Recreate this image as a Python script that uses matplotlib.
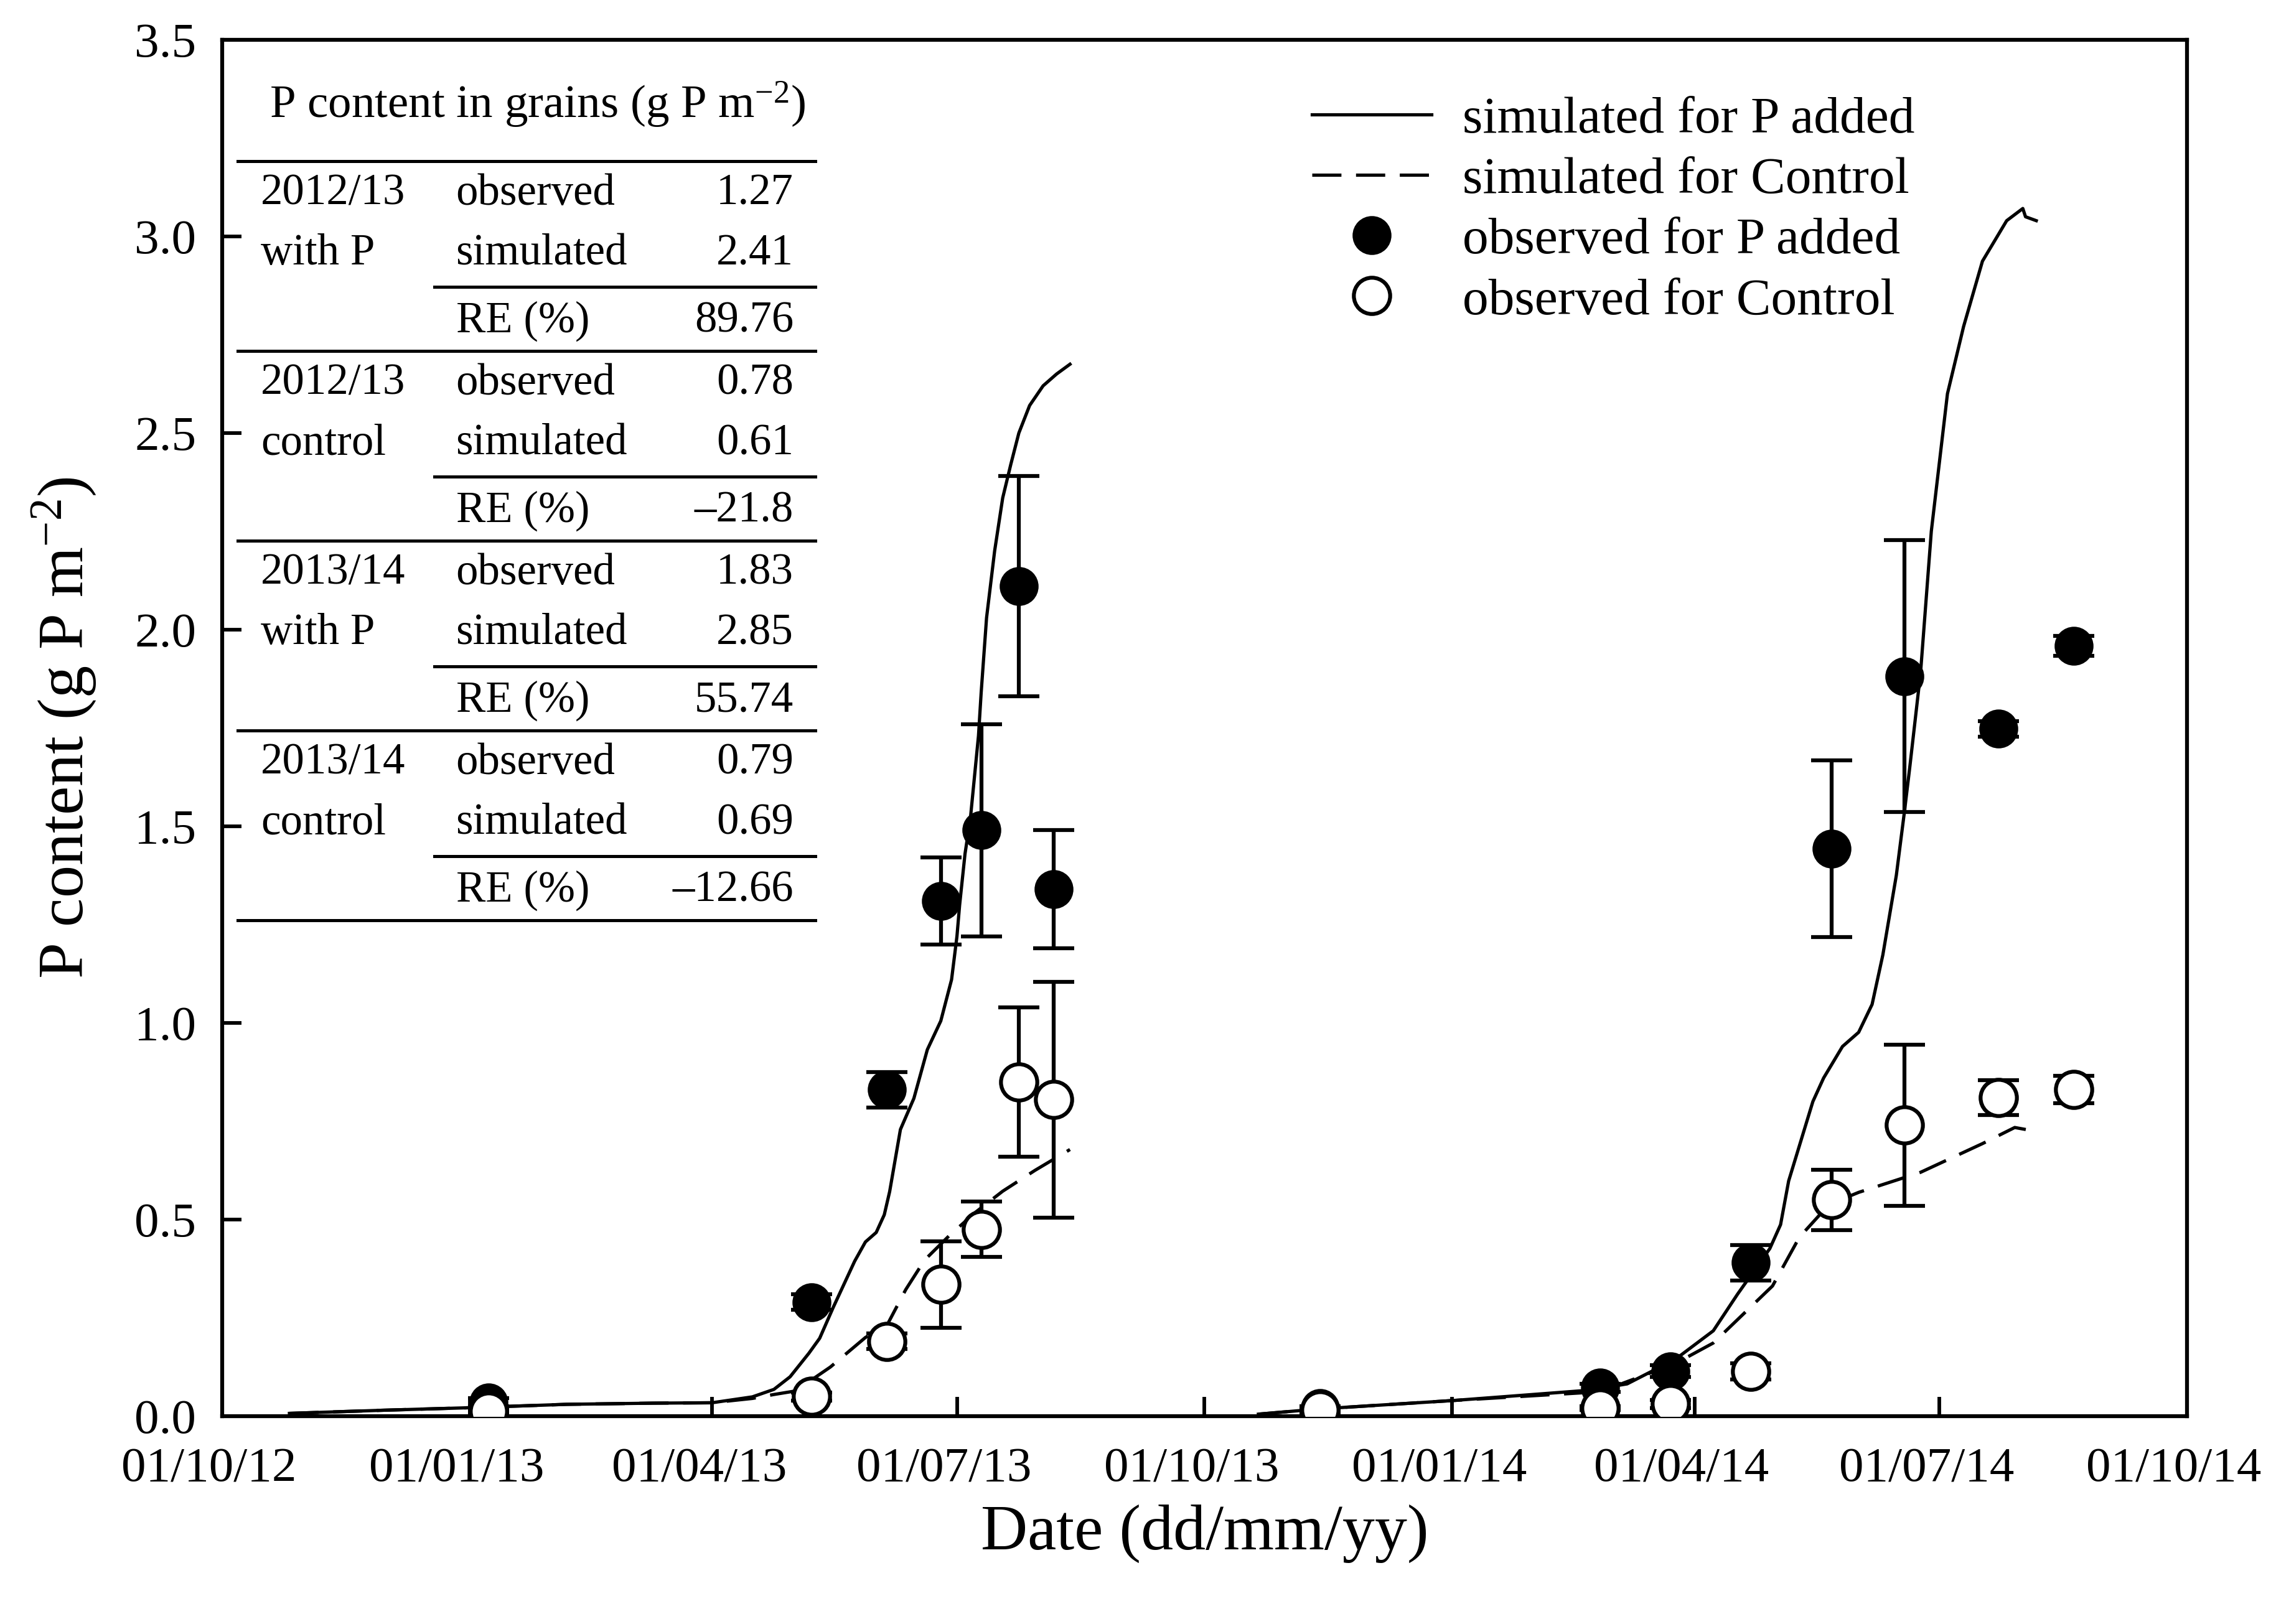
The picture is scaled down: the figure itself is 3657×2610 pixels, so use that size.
import numpy as np
import pandas as pd
import matplotlib
matplotlib.use('Agg')
import matplotlib.pyplot as plt
import matplotlib.dates as mdates
from matplotlib.lines import Line2D
from matplotlib.transforms import ScaledTranslation

plt.rcParams['font.family'] = ['Liberation Serif', 'DejaVu Serif']
plt.rcParams['mathtext.fontset'] = 'custom'
plt.rcParams['mathtext.rm'] = 'Liberation Serif'
plt.rcParams['mathtext.it'] = 'Liberation Serif:italic'

# observed P content in grains (g P m-2), both seasons
obs_dates = ['2013-01-08', '2013-05-08', '2013-06-05', '2013-06-25', '2013-07-10',
             '2013-07-24', '2013-08-06',
             '2013-11-13', '2014-02-25', '2014-03-23', '2014-04-22', '2014-05-22',
             '2014-06-18', '2014-07-23', '2014-08-20']
obs_p = [0.035, 0.29, 0.83, 1.31, 1.49, 2.11, 1.34,
         0.02, 0.072, 0.114, 0.39, 1.443, 1.882, 1.748, 1.959]
obs_p_err = [0.01, 0.02, 0.045, 0.11, 0.27, 0.28, 0.15,
             0.005, 0.01, 0.015, 0.045, 0.225, 0.345, 0.02, 0.025]
obs_ctrl = [0.013, 0.05, 0.19, 0.335, 0.475, 0.85, 0.805,
            0.015, 0.02, 0.031, 0.114, 0.55, 0.74, 0.81, 0.831]
obs_ctrl_err = [0.005, 0.01, 0.02, 0.11, 0.07, 0.19, 0.30,
                0.005, 0.005, 0.01, 0.02, 0.077, 0.205, 0.045, 0.035]

# simulated, season 2012/13
sim1_p_dates = ['2012-10-26', '2012-11-30', '2012-12-30', '2013-02-06', '2013-03-10',
                '2013-04-01', '2013-04-16', '2013-04-24', '2013-04-30', '2013-05-07',
                '2013-05-11', '2013-05-16', '2013-05-24', '2013-05-28', '2013-06-01',
                '2013-06-04', '2013-06-06', '2013-06-08', '2013-06-10', '2013-06-15',
                '2013-06-20', '2013-06-25', '2013-06-29', '2013-07-01', '2013-07-02',
                '2013-07-04', '2013-07-06', '2013-07-09', '2013-07-10', '2013-07-12',
                '2013-07-15', '2013-07-18', '2013-07-21', '2013-07-24', '2013-07-28',
                '2013-08-02', '2013-08-07', '2013-08-12']
sim1_p = [0.007, 0.015, 0.021, 0.030, 0.033,
          0.034, 0.049, 0.068, 0.10, 0.16,
          0.198, 0.276, 0.394, 0.443, 0.467,
          0.512, 0.571, 0.65, 0.729, 0.808,
          0.932, 1.005, 1.11, 1.22, 1.30,
          1.43, 1.52, 1.73, 1.84, 2.03,
          2.20, 2.335, 2.42, 2.50, 2.57,
          2.62, 2.65, 2.675]
sim1_c_dates = ['2012-10-26', '2012-11-30', '2012-12-30', '2013-02-06', '2013-03-10',
                '2013-04-01', '2013-04-16', '2013-04-24', '2013-05-02', '2013-05-15',
                '2013-05-28', '2013-06-05', '2013-06-12', '2013-06-19', '2013-06-28',
                '2013-07-08', '2013-07-18', '2013-07-30', '2013-08-12']
sim1_c = [0.007, 0.015, 0.021, 0.030, 0.033,
          0.034, 0.045, 0.055, 0.064, 0.125,
          0.20, 0.231, 0.322, 0.397, 0.458,
          0.519, 0.572, 0.625, 0.678]

# simulated, season 2013/14
sim2_p_dates = ['2013-10-21', '2013-11-12', '2014-01-02', '2014-02-21', '2014-03-07',
                '2014-03-25', '2014-04-08', '2014-04-17', '2014-04-29', '2014-05-03',
                '2014-05-06', '2014-05-15', '2014-05-19', '2014-05-26', '2014-06-01',
                '2014-06-06', '2014-06-10', '2014-06-15', '2014-06-18', '2014-06-20',
                '2014-06-24', '2014-06-28', '2014-07-04', '2014-07-10', '2014-07-17',
                '2014-07-26', '2014-08-01', '2014-08-02', '2014-08-06']
sim2_p = [0.005, 0.018, 0.04, 0.066, 0.082,
          0.145, 0.217, 0.31, 0.426, 0.487,
          0.598, 0.80, 0.86, 0.94, 0.976,
          1.047, 1.173, 1.375, 1.536, 1.65,
          1.89, 2.25, 2.60, 2.771, 2.937,
          3.04, 3.071, 3.05, 3.04]
sim2_c_dates = ['2013-10-21', '2013-11-12', '2014-01-02', '2014-02-25', '2014-03-25',
                '2014-04-08', '2014-04-30', '2014-05-10', '2014-05-21', '2014-06-01',
                '2014-06-24', '2014-07-17', '2014-07-29', '2014-08-06']
sim2_c = [0.005, 0.018, 0.04, 0.062, 0.134,
          0.186, 0.331, 0.455, 0.538, 0.569,
          0.62, 0.693, 0.734, 0.724]

# summary table
tab_season = ['2012/13', '2012/13', '2013/14', '2013/14']
tab_treat = ['with P', 'control', 'with P', 'control']
tab_obs = ['1.27', '0.78', '1.83', '0.79']
tab_sim = ['2.41', '0.61', '2.85', '0.69']
tab_re = ['89.76', '\u201321.8', '55.74', '\u201312.66']

fig = plt.figure(figsize=(3657 / 300, 2610 / 300), dpi=300)
ax = fig.add_axes([0.0976, 0.128, 0.8633, 0.8475])

dashes = (9, 4.5)
lw = 1.25
for d, v in [(sim1_p_dates, sim1_p), (sim2_p_dates, sim2_p)]:
    ax.plot(pd.to_datetime(d), v, color='k', lw=lw, zorder=2)
for d, v in [(sim1_c_dates, sim1_c), (sim2_c_dates, sim2_c)]:
    ax.plot(pd.to_datetime(d), v, color='k', lw=lw, dashes=dashes, zorder=2)

od = pd.to_datetime(obs_dates)
ax.errorbar(od, obs_p, yerr=obs_p_err, fmt='o', color='k', mfc='k', mec='k',
            ms=14, elinewidth=1.5, capsize=8, capthick=1.5, zorder=3)
ax.errorbar(od, obs_ctrl, yerr=obs_ctrl_err, fmt='o', color='k', mfc='white', mec='k',
            mew=1.5, ms=14, elinewidth=1.5, capsize=8, capthick=1.5, zorder=4)

ax.set_xlim(pd.Timestamp('2012-10-01'), pd.Timestamp('2014-10-01'))
ax.set_ylim(0, 3.5)
ax.xaxis.set_major_locator(mdates.MonthLocator(bymonth=[1, 4, 7, 10]))
ax.xaxis.set_major_formatter(mdates.DateFormatter('%d/%m/%y'))
ax.set_yticks(np.arange(0, 3.51, 0.5))
ax.yaxis.set_major_formatter(matplotlib.ticker.FormatStrFormatter('%.1f'))
ax.tick_params(direction='in', length=7.5, width=1.4, labelsize=19)
ax.tick_params(axis='x', pad=12)
ax.tick_params(axis='y', pad=10)
for s in ax.spines.values():
    s.set_linewidth(1.5)

# date labels sit a little left of their ticks in the original
shift = ScaledTranslation(-5 / 72, 0, fig.dpi_scale_trans)
for lab in ax.get_xticklabels():
    lab.set_transform(lab.get_transform() + shift)

ax.set_xlabel('Date (dd/mm/yy)', fontsize=25)
ax.set_ylabel('P content (g P m$^{-2}$)', fontsize=25)
ax.xaxis.set_label_coords(0.5, -0.064)
ax.yaxis.set_label_coords(-0.063, 0.5)

# legend
handles = [Line2D([], [], color='k', lw=lw),
           Line2D([], [], color='k', lw=lw, dashes=dashes),
           Line2D([], [], ls='none', marker='o', ms=14, mfc='k', mec='k'),
           Line2D([], [], ls='none', marker='o', ms=14, mfc='white', mec='k', mew=1.5)]
labels = ['simulated for P added', 'simulated for Control',
          'observed for P added', 'observed for Control']
ax.legend(handles, labels, loc='upper left', bbox_to_anchor=(0.5547, 0.959),
          frameon=False, fontsize=20, handlelength=2.3, handletextpad=0.6,
          labelspacing=0.25, borderpad=0, borderaxespad=0)

# table in upper left
tr = ax.transAxes
ax.text(0.0241, 0.953, 'P content in grains (g P m$^{-2}$)', transform=tr,
        fontsize=18, va='center', ha='left')
x_full0, x_part0, x_end = 0.0079, 0.1079, 0.3019
col1, col2, col3 = 0.0196, 0.119, 0.2908
rule_kw = dict(transform=tr, color='k', lw=1.2, clip_on=False)
top = 0.9118
step = 0.1379
ax.plot([x_full0, x_end], [top, top], **rule_kw)
for g in range(4):
    y0 = top - g * step
    rows = [y0 - 0.0235, y0 - 0.0673, y0 - 0.1161]
    ax.text(col1, rows[0], tab_season[g], transform=tr, fontsize=17, va='center')
    ax.text(col1, rows[1], tab_treat[g], transform=tr, fontsize=17, va='center')
    ax.text(col2, rows[0], 'observed', transform=tr, fontsize=17, va='center')
    ax.text(col2, rows[1], 'simulated', transform=tr, fontsize=17, va='center')
    ax.text(col2, rows[2], 'RE (%)', transform=tr, fontsize=17, va='center')
    ax.text(col3, rows[0], tab_obs[g], transform=tr, fontsize=17, va='center', ha='right')
    ax.text(col3, rows[1], tab_sim[g], transform=tr, fontsize=17, va='center', ha='right')
    ax.text(col3, rows[2], tab_re[g], transform=tr, fontsize=17, va='center', ha='right')
    ax.plot([x_part0, x_end], [y0 - 0.0913, y0 - 0.0913], **rule_kw)
    ax.plot([x_full0, x_end], [y0 - step, y0 - step], **rule_kw)

fig.savefig('out.png', dpi=300)
